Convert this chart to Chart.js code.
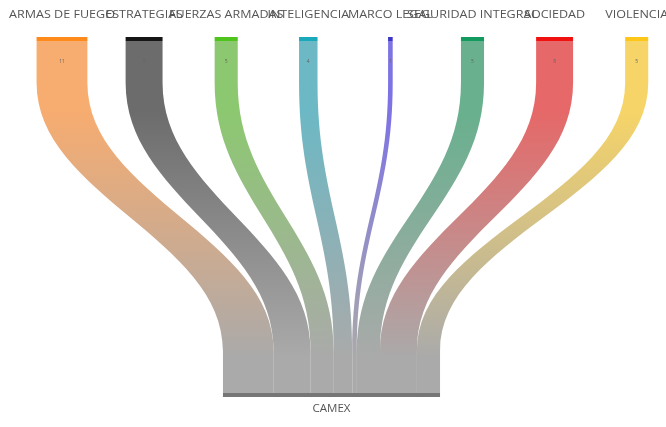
<!DOCTYPE html>
<html><head><meta charset="utf-8">
<script src="https://cdn.jsdelivr.net/npm/chart.js@4"></script>
<style>html,body{margin:0;padding:0;background:#fff}#wrap{width:666px;height:427px}</style>
</head><body><div id="wrap"><canvas id="c"></canvas></div>
<script>
const sources = ['ARMAS DE FUEGO','ESTRATEGIAS','FUERZAS ARMADAS','INTELIGENCIA','MARCO LEGAL','SEGURIDAD INTEGRAL','SOCIEDAD','VIOLENCIA'];
const target = 'CAMEX';
const flows = [11, 8, 5, 4, 1, 5, 8, 5];
const nodeColors = ['#ff8a1c','#151515','#4fc41c','#19a9bb','#3b35c8','#139a5e','#f01010','#ffc61a'];
const ribbonColors = ['rgb(247,172,112)','rgb(108,108,108)','rgb(140,200,112)','rgb(108,184,196)','rgb(125,115,228)','rgb(104,176,142)','rgb(230,104,104)','rgb(246,212,104)'];
const targetColor = '#767676';
const endColor = 'rgb(170,170,170)';

function stretchText(ctx, text, x, y, sx) {
  ctx.save();
  ctx.translate(x, y);
  ctx.scale(sx, 1);
  ctx.fillText(text, 0, 0);
  ctx.restore();
}

const sankeyPlugin = {
  id: 'sankey',
  beforeDatasetsDraw(chart) {
    const ctx = chart.ctx, xs = chart.scales.x, xv = chart.scales.xv, ys = chart.scales.y;
    const yTop = ys.getPixelForValue(1), yBot = ys.getPixelForValue(0);
    const unit = xv.getPixelForValue(1) - xv.getPixelForValue(0);
    const total = flows.reduce((a, b) => a + b, 0);
    const tw = total * unit;
    const tx0 = (chart.chartArea.left + chart.chartArea.right) / 2 - 1.5 - tw / 2;
    const s1 = yTop + 42, s2 = yBot - 42, k = (s2 - s1) * 0.42;
    let acc = 0;
    ctx.save();
    flows.forEach((v, i) => {
      const w = v * unit, cx = xs.getPixelForValue(i);
      const a0 = cx - w / 2, a1 = cx + w / 2;
      const b0 = tx0 + acc * unit, b1 = b0 + w;
      acc += v;
      ctx.beginPath();
      ctx.moveTo(a0, yTop);
      ctx.lineTo(a0, s1);
      ctx.bezierCurveTo(a0, s1 + k, b0, s2 - k, b0, s2);
      ctx.lineTo(b0, yBot);
      ctx.lineTo(b1, yBot);
      ctx.lineTo(b1, s2);
      ctx.bezierCurveTo(b1, s2 - k, a1, s1 + k, a1, s1);
      ctx.lineTo(a1, yTop);
      ctx.closePath();
      const g = ctx.createLinearGradient(0, yTop, 0, yBot);
      g.addColorStop(0, ribbonColors[i]);
      g.addColorStop(0.2, ribbonColors[i]);
      g.addColorStop(0.9, endColor);
      g.addColorStop(1, endColor);
      ctx.fillStyle = g;
      ctx.fill();
      ctx.fillStyle = nodeColors[i];
      ctx.fillRect(a0, yTop - 4, w, 4);
      ctx.fillStyle = '#555';
      ctx.font = '11px "Open Sans", sans-serif';
      ctx.textAlign = 'center';
      ctx.textBaseline = 'middle';
      stretchText(ctx, sources[i], cx, yTop - 26, 1.14);
      ctx.fillStyle = '#666';
      ctx.font = '5px "Open Sans", sans-serif';
      ctx.fillText(String(v), cx, yTop + 21);
    });
    ctx.fillStyle = targetColor;
    ctx.fillRect(tx0, yBot, tw, 4);
    ctx.fillStyle = '#555';
    ctx.font = '11px "Open Sans", sans-serif';
    ctx.textAlign = 'center';
    ctx.textBaseline = 'middle';
    stretchText(ctx, target, tx0 + tw / 2, yBot + 16, 1.05);
    ctx.restore();
  }
};

new Chart(document.getElementById('c'), {
  type: 'scatter',
  data: { datasets: [{ data: sources.map((s, i) => ({ x: i, y: 1 })), pointRadius: 0 }] },
  options: {
    responsive: true, maintainAspectRatio: false, animation: false,
    layout: { padding: { top: 41, bottom: 34, left: 0, right: 0 } },
    plugins: { legend: { display: false }, tooltip: { enabled: false } },
    scales: {
      x: { type: 'linear', min: -0.755, max: 7.357, display: false },
      xv: { type: 'linear', axis: 'x', min: 0, max: 144.2, display: false },
      y: { type: 'linear', min: 0, max: 1, display: false }
    }
  },
  plugins: [sankeyPlugin]
});
</script>
</body></html>
